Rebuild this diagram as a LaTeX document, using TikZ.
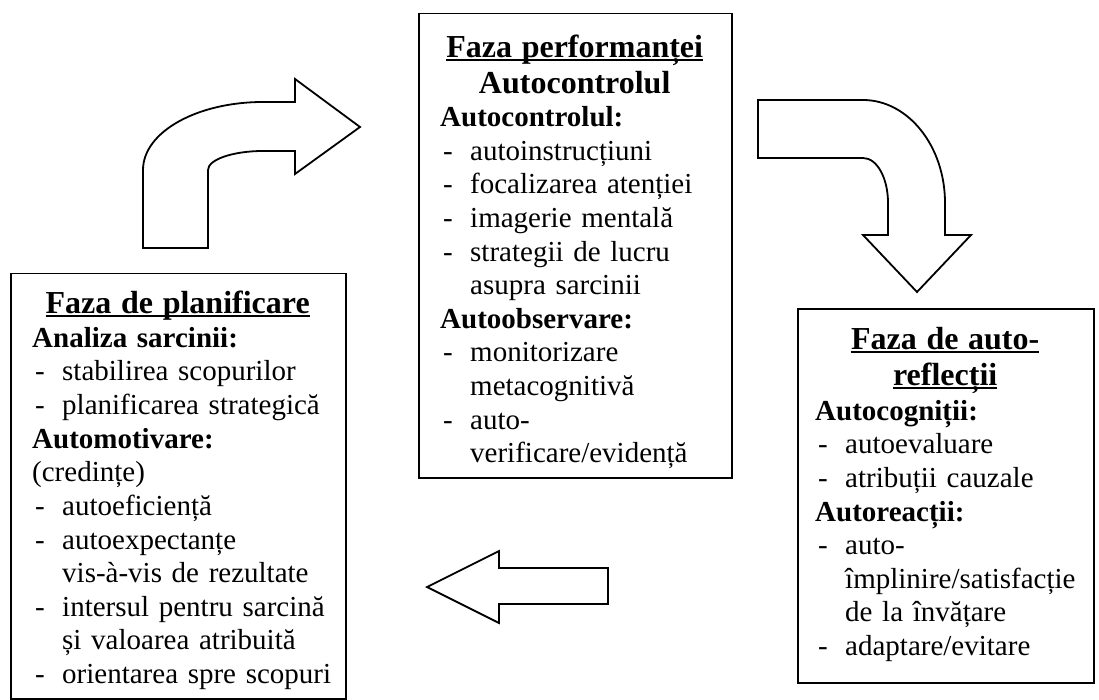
\documentclass[tikz,border=0pt]{standalone}
\usepackage{fontspec}
\setmainfont{Liberation Serif}
\newcommand\ulx[1]{\leavevmode\setbox0=\hbox{#1}\rlap{\rule[-4pt]{\wd0}{2pt}}\box0}
\newcommand\ttl[1]{\par{\centering\fontsize{32}{36}\selectfont\bfseries\leavevmode #1\par}}
\newcommand\hd[1]{\par\noindent\mbox{\bfseries #1}}
\newcommand\itm[1]{\par\noindent\makebox[30pt][l]{\hspace{3pt}-}\mbox{#1}}
\newcommand\cnt[1]{\par\noindent\hspace*{30pt}\mbox{#1}}
\newcommand\pln[1]{\par\noindent\mbox{#1}}
\tikzset{
  phasebox/.style={draw, line width=1.5pt, rectangle, anchor=north west, inner sep=0pt},
  phasetext/.style={anchor=north west, inner sep=0pt,
    font={\fontsize{29}{33.6}\selectfont}, execute at begin node={\raggedright\parindent=0pt}},
  blockarrow/.style={draw, line width=1.8pt, line join=miter, fill=white}
}
\begin{document}
\begin{tikzpicture}[x=1pt, y=-1pt]
\useasboundingbox (0,0) rectangle (1099,700);

% boxes
\node[phasebox, minimum width=335pt, minimum height=425pt] (plan) at (10,273) {};
\node[phasebox, minimum width=313pt, minimum height=464pt] (perf) at (418,13) {};
\node[phasebox, minimum width=296pt, minimum height=374pt] (refl) at (797,308) {};

% texts
\node[phasetext, text width=291pt] (plantxt) at (32,277) {%
\ttl{\rule{0pt}{26pt}\ulx{Faza de planificare}}\vspace{0.6pt}
\hd{Analiza sarcinii:}
\itm{stabilirea scopurilor}
\itm{planificarea strategică}
\hd{Automotivare:}
\pln{(credințe)}
\itm{autoeficiență}
\itm{autoexpectanțe}
\cnt{vis-à-vis de rezultate}
\itm{intersul pentru sarcină}
\cnt{și valoarea atribuită}
\itm{orientarea spre scopuri}
};

\node[phasetext, text width=269pt] (perftxt) at (440,21) {%
\ttl{\rule{0pt}{26pt}\ulx{Faza performanței}}
\ttl{Autocontrolul}
\hd{Autocontrolul:}
\itm{autoinstrucțiuni}
\itm{focalizarea atenției}
\itm{imagerie mentală}
\itm{strategii de lucru}
\cnt{asupra sarcinii}
\hd{Autoobservare:}
\itm{monitorizare}
\cnt{metacognitivă}
\itm{auto-}
\cnt{verificare/evidență}
};

\node[phasetext, text width=260pt] (refltxt) at (815,313) {%
\ttl{\rule{0pt}{26pt}\ulx{Faza de auto-}}
\ttl{\ulx{reflecții}}\vspace{1.4pt}
\hd{Autocogniții:}
\itm{autoevaluare}
\itm{atribuții cauzale}
\hd{Autoreacții:}
\itm{auto-}
\cnt{împlinire/satisfacție}
\cnt{de la învățare}
\itm{adaptare/evitare}
};

% block arrows
\draw[blockarrow] (143,248) -- (143,170)
  .. controls (143,132) and (197,102) .. (263,102)
  -- (295,102) -- (295,79) -- (360,127) -- (295,174) -- (295,151) -- (263,151)
  .. controls (233,151) and (208,159.5) .. (208,170)
  -- (208,248) -- cycle;

\draw[blockarrow] (758,100) -- (863,100)
  .. controls (908,100) and (945,146) .. (945,203)
  -- (945,235) -- (971,235) -- (917,292) -- (863,235) -- (888,235) -- (888,203)
  .. controls (888,178) and (877,158) .. (863,158)
  -- (758,158) -- cycle;

\draw[blockarrow] (608,568) -- (499,568) -- (499,551) -- (427,587)
  -- (499,623) -- (499,604) -- (608,604) -- cycle;
\end{tikzpicture}
\end{document}
